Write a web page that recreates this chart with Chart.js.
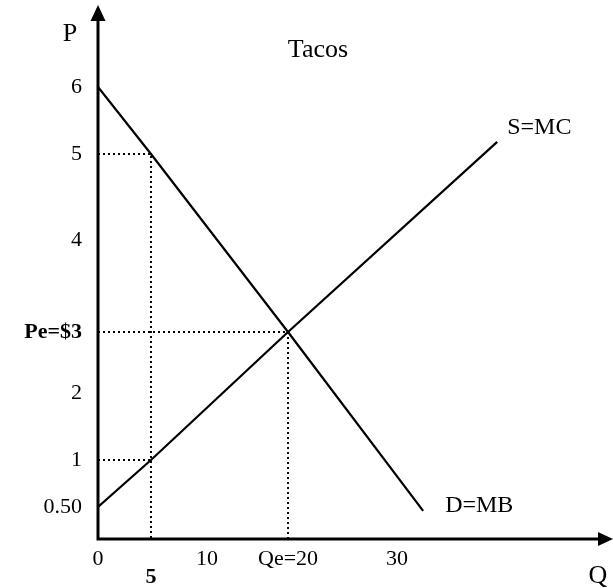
<!DOCTYPE html>
<html>
<head>
<meta charset="utf-8">
<script src="https://cdn.jsdelivr.net/npm/chart.js@4"></script>
<style>
  body { margin: 0; background: #fff; }
</style>
</head>
<body>
<canvas id="chart" width="613" height="588"></canvas>
<script>
// values
const demandQ = [0, 5, 20, 32.4]
const demandP = [6, 5, 3, 0.44]
const supplyQ = [0, 5, 20, 39.2]
const supplyP = [0.5, 1, 3, 5.18]
const eqQ = 20
const eqP = 3
const lowQ = 5
const lowQdemandP = 5
const lowQsupplyP = 1

const xTickValues = [0, 5, 10, 20, 30]
const xTickLabels = ['0', ['', '5'], '10', 'Qe=20', '30']
const yTickValues = [0.5, 1, 2, 3, 4, 5, 6]
const yTickLabels = ['0.50', '1', '2', 'Pe=$3', '4', '5', '6']

// the axes in the picture are not evenly spaced, so the scales
// map value -> fraction of the axis piece by piece
const knots = {
  x: [[0, 0], [5, 0.1045], [10, 0.215], [20, 0.3748], [30, 0.5897]],
  y: [[0, 0], [0.5, 0.0605], [1, 0.1493], [2, 0.276], [3, 0.3913], [4, 0.5652], [5, 0.7278], [6, 0.8544]]
}

function toDecimal(k, v) {
  let i = 1
  while (i < k.length - 1 && v > k[i][0]) i++
  const a = k[i - 1], b = k[i]
  return a[1] + (v - a[0]) * (b[1] - a[1]) / (b[0] - a[0])
}

function fromDecimal(k, d) {
  let i = 1
  while (i < k.length - 1 && d > k[i][1]) i++
  const a = k[i - 1], b = k[i]
  return a[0] + (d - a[1]) * (b[0] - a[0]) / (b[1] - a[1])
}

class PiecewiseScale extends Chart.LinearScale {
  getPixelForValue(value) {
    if (value === null || value === undefined) return NaN
    return this.getPixelForDecimal(toDecimal(knots[this.id], value))
  }
  getValueForPixel(pixel) {
    return fromDecimal(knots[this.id], this.getDecimalForPixel(pixel))
  }
}
PiecewiseScale.id = 'piecewise'
PiecewiseScale.defaults = Chart.LinearScale.defaults
Chart.register(PiecewiseScale)

const FONT = 'Liberation Serif'
const pts = (xs, ys) => xs.map((x, i) => ({ x: x, y: ys[i] }))

const solid = { borderColor: '#000', borderWidth: 2.2, pointRadius: 0, showLine: true, fill: false }
const dotted = { borderColor: '#000', borderWidth: 2, borderDash: [2, 3], pointRadius: 0, showLine: true, fill: false }

const axesPlugin = {
  id: 'axes',
  afterDraw(chart) {
    const ctx = chart.ctx
    const a = chart.chartArea
    const xs = chart.scales.x, ys = chart.scales.y
    ctx.save()
    ctx.fillStyle = '#000'
    ctx.strokeStyle = '#000'
    ctx.lineWidth = 3
    ctx.beginPath()
    ctx.moveTo(a.left, a.bottom + 1.5)
    ctx.lineTo(a.left, 20)
    ctx.moveTo(a.left - 1.5, a.bottom)
    ctx.lineTo(599, a.bottom)
    ctx.stroke()
    // arrow heads
    ctx.beginPath()
    ctx.moveTo(a.left, 5)
    ctx.lineTo(a.left - 7.5, 21)
    ctx.lineTo(a.left + 7.5, 21)
    ctx.closePath()
    ctx.fill()
    ctx.beginPath()
    ctx.moveTo(613, a.bottom)
    ctx.lineTo(598, a.bottom - 7)
    ctx.lineTo(598, a.bottom + 7)
    ctx.closePath()
    ctx.fill()

    ctx.textBaseline = 'alphabetic'
    ctx.textAlign = 'center'
    ctx.font = '26px "' + FONT + '"'
    ctx.fillText('P', 70, 41)
    ctx.fillText('Q', 598, 583)
    ctx.fillText('Tacos', 318, 57)

    ctx.textAlign = 'left'
    ctx.font = '24px "' + FONT + '"'
    const sEnd = supplyQ.length - 1
    ctx.fillText('S=MC', xs.getPixelForValue(supplyQ[sEnd]) + 10, ys.getPixelForValue(supplyP[sEnd]) - 8)
    const dEnd = demandQ.length - 1
    ctx.fillText('D=MB', xs.getPixelForValue(demandQ[dEnd]) + 22, ys.getPixelForValue(demandP[dEnd]) + 1)
    ctx.restore()
  }
}

new Chart(document.getElementById('chart'), {
  type: 'scatter',
  data: {
    datasets: [
      Object.assign({ label: 'D=MB', data: pts(demandQ, demandP) }, solid),
      Object.assign({ label: 'S=MC', data: pts(supplyQ, supplyP) }, solid),
      Object.assign({ label: 'eq', data: [{ x: 0, y: eqP }, { x: eqQ, y: eqP }, { x: eqQ, y: 0 }] }, dotted),
      Object.assign({ label: 'q5 demand', data: [{ x: 0, y: lowQdemandP }, { x: lowQ, y: lowQdemandP }, { x: lowQ, y: 0 }] }, dotted),
      Object.assign({ label: 'q5 supply', data: [{ x: 0, y: lowQsupplyP }, { x: lowQ, y: lowQsupplyP }] }, dotted)
    ]
  },
  options: {
    responsive: false,
    animation: false,
    layout: { padding: { top: 10, right: 8, left: 0, bottom: 0 } },
    plugins: {
      legend: { display: false },
      tooltip: { enabled: false }
    },
    scales: {
      x: {
        type: 'piecewise',
        min: 0,
        max: 49,
        grid: { display: false, drawTicks: false },
        border: { display: false },
        afterFit: (scale) => {
          scale.height = 49
          scale.paddingLeft = 0
          scale.paddingRight = 0
        },
        afterBuildTicks: (scale) => { scale.ticks = xTickValues.map(v => ({ value: v })) },
        ticks: {
          autoSkip: false,
          maxRotation: 0,
          padding: 11,
          color: '#000',
          font: (c) => ({ family: FONT, size: 22, lineHeight: 0.82, weight: c.tick && c.tick.value === 5 ? 'bold' : 'normal' }),
          callback: (v) => xTickLabels[xTickValues.indexOf(v)]
        }
      },
      y: {
        type: 'piecewise',
        min: 0,
        max: 7.15,
        grid: { display: false, drawTicks: false },
        border: { display: false },
        afterFit: (scale) => {
          scale.width = 98
          scale.paddingTop = 0
          scale.paddingBottom = 0
        },
        afterBuildTicks: (scale) => { scale.ticks = yTickValues.map(v => ({ value: v })) },
        ticks: {
          autoSkip: false,
          padding: 16,
          color: '#000',
          font: (c) => ({ family: FONT, size: 22, weight: c.tick && c.tick.value === 3 ? 'bold' : 'normal' }),
          callback: (v) => yTickLabels[yTickValues.indexOf(v)]
        }
      }
    }
  },
  plugins: [axesPlugin]
})
</script>
</body>
</html>
